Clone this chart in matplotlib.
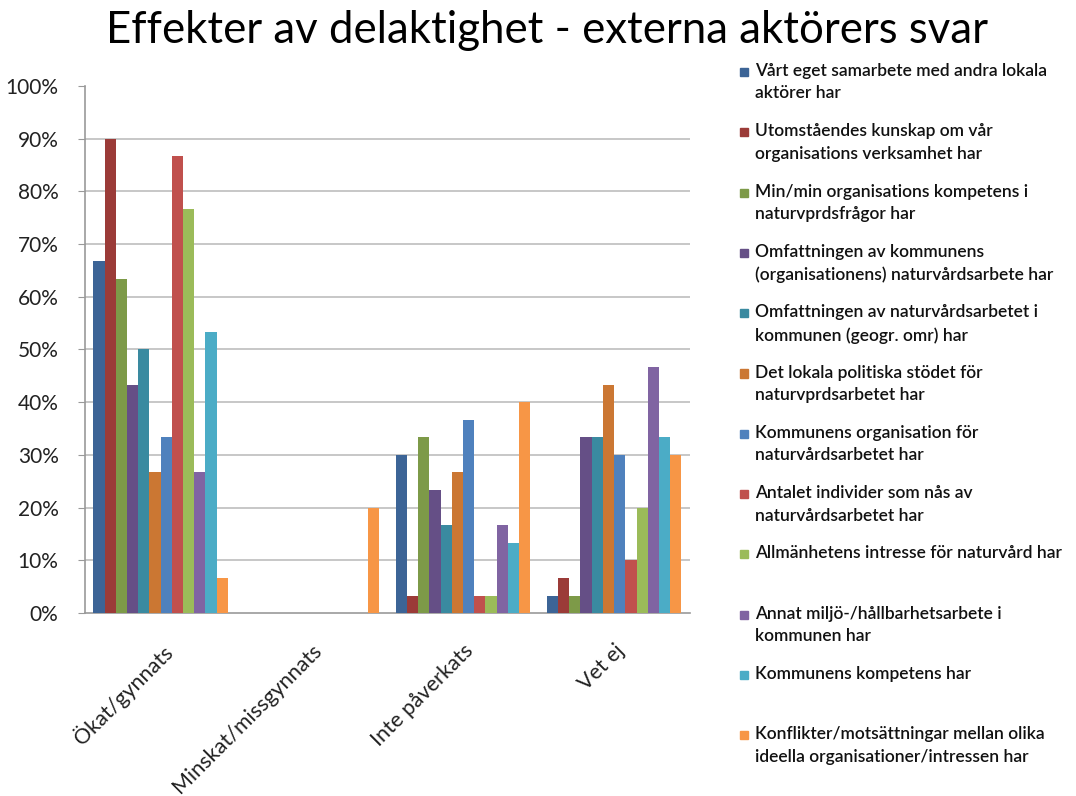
import matplotlib.pyplot as plt
import numpy as np
from matplotlib.patches import Rectangle

plt.rcParams['font.family'] = ['Lato', 'DejaVu Sans']

# kategorier och serier
kategorier = ["Ökat/gynnats", "Minskat/missgynnats", "Inte påverkats", "Vet ej"]

serier = [
    "Vårt eget samarbete med andra lokala\naktörer har",
    "Utomståendes kunskap om vår\norganisations verksamhet har",
    "Min/min organisations kompetens i\nnaturvprdsfrågor har",
    "Omfattningen av kommunens\n(organisationens) naturvårdsarbete har",
    "Omfattningen av naturvårdsarbetet i\nkommunen (geogr. omr) har",
    "Det lokala politiska stödet för\nnaturvprdsarbetet har",
    "Kommunens organisation för\nnaturvårdsarbetet har",
    "Antalet individer som nås av\nnaturvårdsarbetet har",
    "Allmänhetens intresse för naturvård har",
    "Annat miljö-/hållbarhetsarbete i\nkommunen har",
    "Kommunens kompetens har",
    "Konflikter/motsättningar mellan olika\nideella organisationer/intressen har",
]

# andel (%) per serie, i ordningen: Ökat, Minskat, Inte påverkats, Vet ej
varden = [
    [66.7, 0, 30.0, 3.3],
    [90.0, 0, 3.3, 6.7],
    [63.3, 0, 33.3, 3.3],
    [43.3, 0, 23.3, 33.3],
    [50.0, 0, 16.7, 33.3],
    [26.7, 0, 26.7, 43.3],
    [33.3, 0, 36.7, 30.0],
    [86.7, 0, 3.3, 10.0],
    [76.7, 0, 3.3, 20.0],
    [26.7, 0, 16.7, 46.7],
    [53.3, 0, 13.3, 33.3],
    [6.7, 20.0, 40.0, 30.0],
]

farger = ["#3C6496", "#9B3B38", "#7D9A48", "#654F86", "#3A8AA0", "#CB7733",
          "#4F81BD", "#C0504D", "#9BBB59", "#8064A2", "#4BACC6", "#F79646"]

fig = plt.figure(figsize=(10.76, 7.96), dpi=100)
ax = fig.add_axes([0.079, 0.23, 0.562, 0.662])

x = np.arange(len(kategorier))
n = len(serier)
bredd = 0.89 / n
for i in range(n):
    ax.bar(x - 0.445 + bredd * (i + 0.5), varden[i], width=bredd, color=farger[i], zorder=3)

ax.set_xlim(-0.5, len(kategorier) - 0.5)
ax.set_ylim(0, 100)
ax.set_yticks(range(0, 101, 10))
ax.set_yticklabels([f"{v}%" for v in range(0, 101, 10)], fontsize=15, color="#222222")
for v in range(10, 100, 10):
    ax.axhline(v, color="#BEBEBE", lw=1.2, zorder=1)

ax.set_xticks(x)
ax.set_xticklabels(kategorier, rotation=45, ha="right", rotation_mode="anchor", fontsize=15.5, color="#222222")
ax.tick_params(axis="x", length=0, pad=20)
ax.tick_params(axis="y", length=5, color="#999999", pad=14)

for s in ["top", "right"]:
    ax.spines[s].set_visible(False)
for s in ["left", "bottom"]:
    ax.spines[s].set_color("#999999")
    ax.spines[s].set_linewidth(1.2)

fig.text(0.508, 0.962, "Effekter av delaktighet - externa aktörers svar", ha="center", va="center", fontsize=31.5)

# forklaring ritad for hand
y0 = 72
steg = 60.3
for i in range(n):
    yp = y0 + i * steg
    fig.patches.append(Rectangle((740 / 1076, 1 - (yp + 4) / 796), 8 / 1076, 8 / 796,
                                 transform=fig.transFigure, color=farger[i]))
    fig.text(755 / 1076, 1 - (yp - 9) / 796, serier[i], ha="left", va="top",
             fontsize=12.5, fontweight="semibold", linespacing=1.5, color="#111111")

fig.savefig("out.png", dpi=100)
